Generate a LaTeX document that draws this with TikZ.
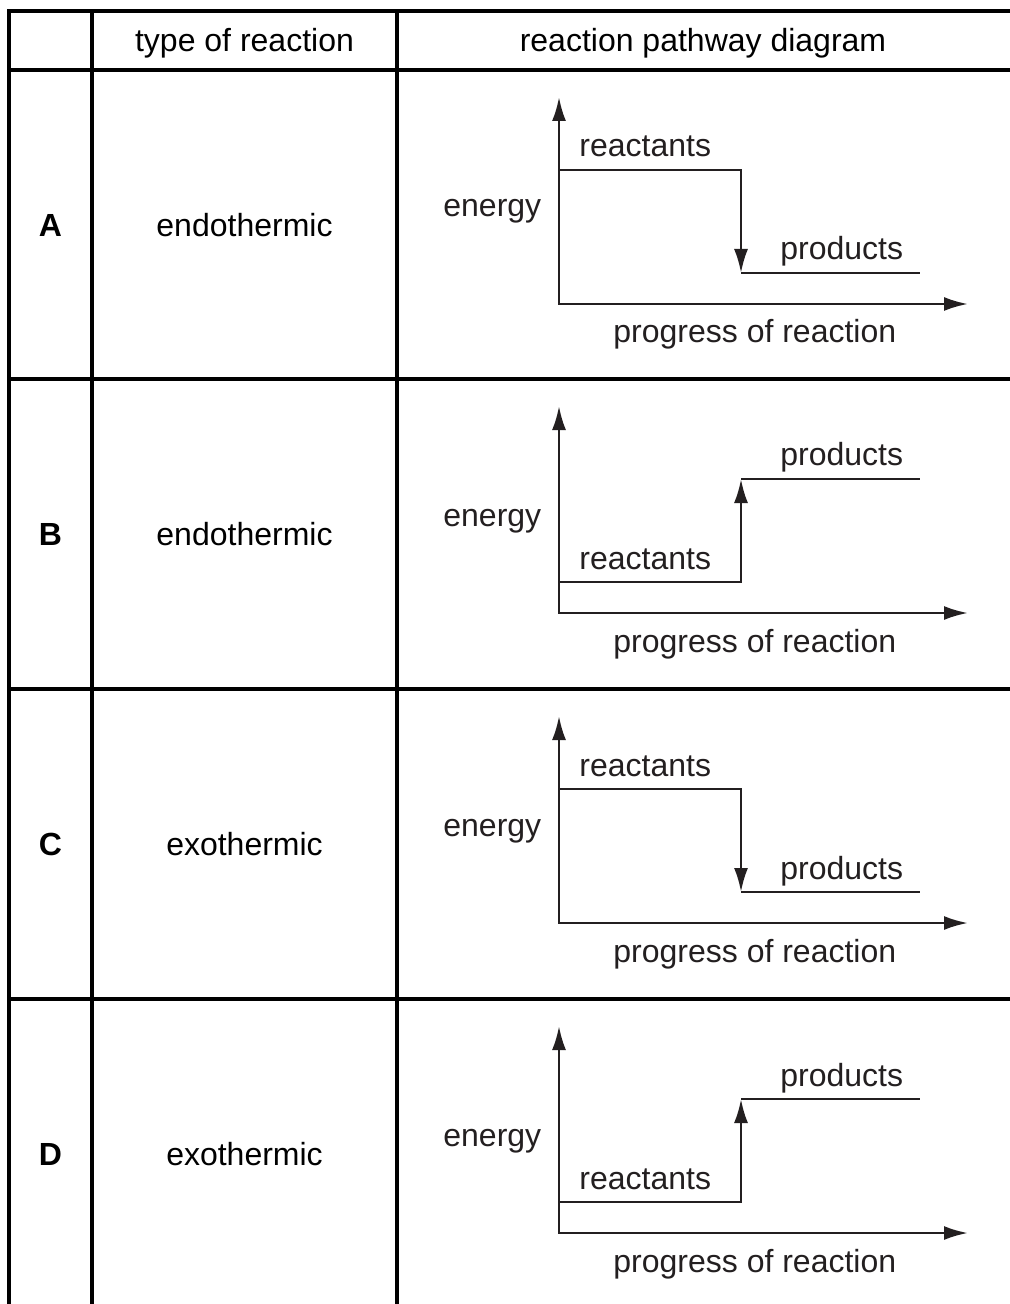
\documentclass[tikz,border=0pt]{standalone}
\usepackage{fontspec}
\setmainfont{Liberation Sans}
\usetikzlibrary{arrows.meta}
\definecolor{ink}{HTML}{231F20}

\begin{document}
\begin{tikzpicture}[x=0.5pt, y=-0.5pt,
        every node/.style={font=\fontsize{16}{19}\selectfont, inner sep=0pt},
        grid/.style={line width=1.6pt, black},
        lbl/.style={anchor=base west, text=ink},
        axis/.style={line width=1.3pt, draw=ink,
            {Latex[length=12pt, width=7pt]}-{Latex[length=12pt, width=7pt]}},
        change/.style={line width=1.3pt, draw=ink, -{Latex[length=12pt, width=7pt]}},
        level/.style={line width=1.3pt, draw=ink}]
        \useasboundingbox (0,0) rectangle (1009,1304);

        % Table
        \draw[grid] (1020,11) -- (9,11) -- (9,1320);
        \draw[grid] (92,11) -- (92,1320);
        \draw[grid] (397,11) -- (397,1320);
        \foreach \liney in {70,379,689,999}
            \draw[grid] (9,\liney) -- (1020,\liney);

        % Header
        \node[anchor=base] (typehead) at (244.5,52) {type of reaction};
        \node[anchor=base] (pathhead) at (703,52) {reaction pathway diagram};

        % Rows
        \foreach \rowy/\letter/\kind/\ys/\ye [count=\i] in
            {70/A/endothermic/100/203, 379/B/endothermic/203/100,
             689/C/exothermic/100/203, 999/D/exothermic/203/100} {
            \node[font=\fontsize{16}{19}\selectfont\bfseries] (letter\i) at (50.5,\rowy+155) {\letter};
            \node (kind\i) at (244.5,\rowy+155) {\kind};

            % Axes
            \coordinate (ytop\i) at (559,\rowy+27);
            \coordinate (orig\i) at (559,\rowy+234);
            \coordinate (xend\i) at (968,\rowy+234);
            \draw[axis] (ytop\i) -- (orig\i) -- (xend\i);

            % Energy levels
            \coordinate (rs\i) at (559,\rowy+\ys);
            \coordinate (re\i) at (741,\rowy+\ys);
            \coordinate (ps\i) at (741,\rowy+\ye);
            \coordinate (pe\i) at (920,\rowy+\ye);
            \draw[change] (rs\i) -- (re\i) -- (ps\i);
            \draw[level] (ps\i) -- (pe\i);

            % Labels
            \node[lbl] (energy\i) at (443,\rowy+147) {energy};
            \node[lbl] (react\i) at (579,\rowy+\ys-13) {reactants};
            \node[lbl] (prod\i) at (780,\rowy+\ye-13) {products};
            \node[lbl] (progress\i) at (613,\rowy+273) {progress of reaction};
        }
\end{tikzpicture}
\end{document}
